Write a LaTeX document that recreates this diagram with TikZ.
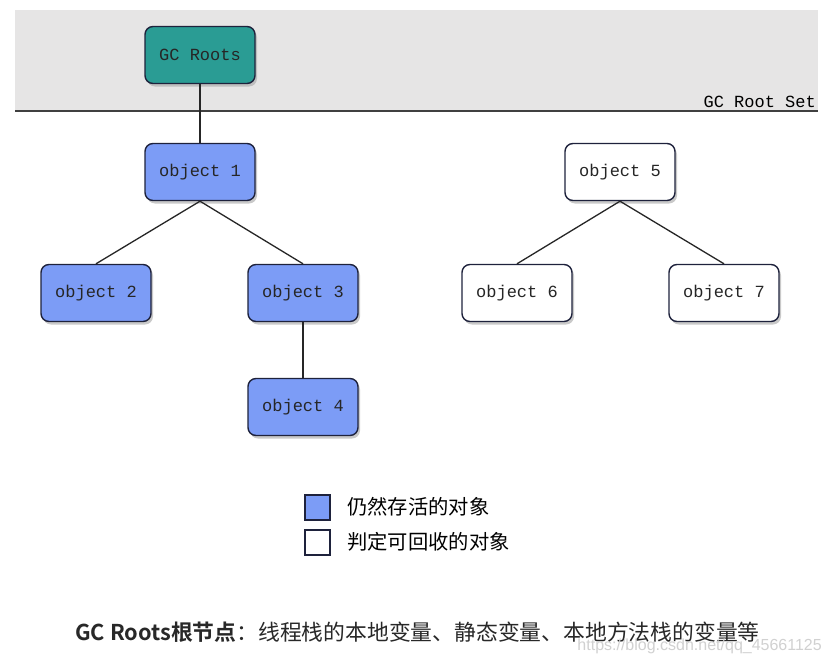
\documentclass[tikz,border=0pt]{standalone}
\usepackage{fontspec}
\setmonofont{Liberation Mono}
\newfontfamily\cjk{Noto Sans CJK SC}
\newfontfamily\cjkb{Noto Sans CJK SC Bold}
\usetikzlibrary{shadows}
\definecolor{bandgray}{RGB}{230,229,229}
\definecolor{teal1}{RGB}{42,156,148}
\definecolor{liveblue}{RGB}{124,156,246}
\definecolor{border}{RGB}{30,34,60}
\definecolor{txtdark}{RGB}{40,40,40}
\tikzset{
  obj/.style={draw=border, line width=1.4pt, rounded corners=8pt, minimum width=110pt, minimum height=57pt,
    font=\ttfamily\fontsize{17}{19}\selectfont, text=black!85,
    drop shadow={shadow xshift=2pt, shadow yshift=-3pt, fill=black!35, opacity=0.6}},
  live/.style={obj, fill=liveblue},
  dead/.style={obj, fill=white},
  root/.style={obj, fill=teal1},
  edge/.style={draw=black!85, line width=1.3pt},
  legbox/.style={draw=border, line width=1.2pt, minimum width=25pt, minimum height=25pt, inner sep=0pt}
}
\begin{document}
\begin{tikzpicture}[x=1pt,y=-1pt]
\useasboundingbox (0,0) rectangle (831,664);
\fill[white] (0,0) rectangle (831,664);
\fill[bandgray] (15,10) rectangle (818,111);
\draw[line width=1.6pt, black!75] (15,111) -- (818,111);
\node[anchor=south east, font=\ttfamily\fontsize{17}{18}\selectfont, inner sep=0pt] (setlbl) at (816,108) {GC Root Set};

\node[root] (gc) at (200,55) {GC Roots};
\node[live] (o1) at (200,172) {object 1};
\node[live] (o2) at (96,293) {object 2};
\node[live] (o3) at (303,293) {object 3};
\node[live] (o4) at (303,407) {object 4};
\node[dead] (o5) at (620,172) {object 5};
\node[dead] (o6) at (517,293) {object 6};
\node[dead] (o7) at (724,293) {object 7};

\draw[edge] (gc.south) -- (o1.north);
\draw[edge] (o1.south) -- (o2.north);
\draw[edge] (o1.south) -- (o3.north);
\draw[edge] (o3.south) -- (o4.north);
\draw[edge] (o5.south) -- (o6.north);
\draw[edge] (o5.south) -- (o7.north);

\node[legbox, fill=liveblue] (lg1) at (317.5,507.5) {};
\node[legbox, fill=white] (lg2) at (317.5,542.5) {};
\node[anchor=west, font=\cjk\fontsize{20.3}{22}\selectfont, inner sep=0pt] (lt1) at (347,507) {仍然存活的对象};
\node[anchor=west, font=\cjk\fontsize{20.3}{22}\selectfont, inner sep=0pt] (lt2) at (347,542) {判定可回收的对象};

\node[anchor=west, inner sep=0pt, text=txtdark, font=\cjk\fontsize{21.8}{24}\selectfont] (foot) at (75,632)
  {{\cjkb GC Roots根节点}：线程栈的本地变量、静态变量、本地方法栈的变量等};
\node[anchor=east, inner sep=0pt, text=black!18, font=\fontspec{Liberation Sans}\fontsize{16}{17}\selectfont] (wm) at (822,646) {https://blog.csdn.net/qq\_45661125};
\end{tikzpicture}
\end{document}
